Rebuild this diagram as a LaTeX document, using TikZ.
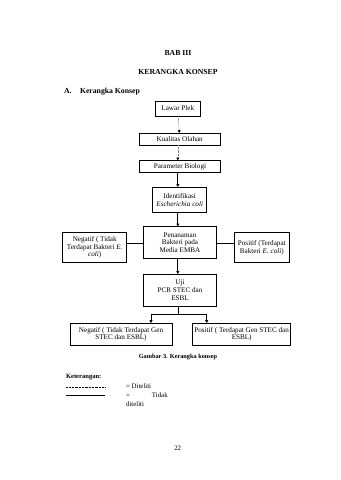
\documentclass[tikz,border=0pt]{standalone}
\usepackage{fontspec}
\setmainfont{Liberation Serif}
\usetikzlibrary{positioning, arrows.meta, calc}

\begin{document}
\begin{tikzpicture}[
  x=1.75pt, y=-1.75pt,
  box/.style={rectangle, draw, line width=1pt, align=center,
              inner sep=1pt, font=\fontsize{12.5}{13.5}\selectfont},
  title/.style={font=\fontsize{13.5}{15}\selectfont\bfseries},
  plain/.style={font=\fontsize{12}{14}\selectfont},
  arrow/.style={-{Triangle[length=5pt, width=5pt]}, line width=1.4pt},
  notdone/.style={-{Triangle[length=5pt, width=5pt, color=black]},
                  gray, dash pattern=on 1.5pt off 1pt, line width=1pt},
  link/.style={line width=1pt},
]
\useasboundingbox (0,0) rectangle (340,480);

% Headings
\node[title] at (178, 52.7)  (bab)   {BAB III};
\node[title] at (178, 72.3)  (judul) {KERANGKA KONSEP};
\node[title, anchor=west] at (62, 91.7) (sub) {A.\hspace{1.1em}Kerangka Konsep};

% Main column
\node[box, minimum width=44.3*1.75pt, minimum height=15*1.75pt, line width=1.4pt]
  at (177.8, 108.5) (lawar) {Lawar Plek};
\node[box, minimum width=80.7*1.75pt, minimum height=11.7*1.75pt]
  at (179.7, 139.2) (kualitas) {Kualitas Olahan};
\node[box, minimum width=81.4*1.75pt, minimum height=11.6*1.75pt]
  at (180, 166.5) (parameter) {Parameter Biologi};
\node[box, minimum width=54*1.75pt, minimum height=25*1.75pt]
  at (179.7, 199.8) (identifikasi) {Identifikasi\\\textit{Escherichia coli}};
\node[box, minimum width=73.4*1.75pt, minimum height=31.6*1.75pt]
  at (180, 242.5) (penanaman) {Penanaman\\Bakteri pada\\Media EMBA};
\node[box, minimum width=73.4*1.75pt, minimum height=31.7*1.75pt]
  at (180, 290.2) (uji) {Uji\\PCR STEC dan\\ESBL};

% Side results of the culture
\node[box, minimum width=64*1.75pt, minimum height=29.6*1.75pt]
  at (94.7, 247.5) (negkultur) {Negatif ( Tidak\\Terdapat Bakteri \textit{E.}\\\textit{coli})};
\node[box, minimum width=55*1.75pt, minimum height=29.6*1.75pt]
  at (261.8, 247.5) (poskultur) {Positif (Terdapat\\Bakteri \textit{E. coli})};

% PCR results
\node[box, minimum width=102*1.75pt, minimum height=21.7*1.75pt]
  at (121, 334.2) (negpcr) {Negatif ( Tidak Terdapat Gen\\STEC dan ESBL)};
\node[box, minimum width=98*1.75pt, minimum height=21.7*1.75pt]
  at (241.7, 334.2) (pospcr) {Positif ( Terdapat Gen STEC dan\\ESBL)};

% Caption
\node[font=\fontsize{11}{13}\selectfont\bfseries] at (178, 356.7) (caption) {Gambar 3. Kerangka konsep};

% Arrows: main column
\draw[notdone] (lawar) -- (kualitas);
\draw[notdone] (kualitas.south -| lawar) -- (parameter.north -| lawar);
\draw[arrow] (parameter.south -| lawar) -- (identifikasi.north -| lawar);
\draw[arrow] (identifikasi.south -| lawar) -- (penanaman.north -| lawar);
\draw[arrow] (penanaman.south -| lawar) -- (uji.north -| lawar);

% Side links
\coordinate (midlink) at (0, 243.3);
\draw[link] (penanaman.west |- midlink) -- (negkultur.east |- midlink);
\draw[link] (penanaman.east |- midlink) -- (poskultur.west |- midlink);

% Branch to PCR results
\coordinate (split) at ($(uji.south -| lawar) + (0, 8)$);
\coordinate (leftdrop) at (151, 0);
\coordinate (rightdrop) at (206.7, 0);
\draw[link] (uji.south -| lawar) -- (split);
\draw[link] (split -| leftdrop) -- (split -| rightdrop);
\draw[arrow] (split -| leftdrop) -- (negpcr.north -| leftdrop);
\draw[arrow] (split -| rightdrop) -- (pospcr.north -| rightdrop);

% Legend
\node[font=\fontsize{11.5}{13}\selectfont\bfseries, anchor=west] at (64, 376.7) (keterangan) {Keterangan:};
\coordinate (dashA) at (66, 387);
\coordinate (dashB) at (105, 387);
\coordinate (lineA) at (66, 395);
\coordinate (lineB) at (105, 395);
\draw[line width=0.9pt, dash pattern=on 1.6pt off 0.9pt] (dashA) -- (dashB);
\draw[line width=0.9pt] (lineA) -- (lineB);
\node[plain, anchor=west, inner sep=0pt] at (126, 386) (diteliti) {= Diteliti};
\node[plain, font=\fontsize{12}{15.5}\selectfont, anchor=north west, align=left, inner sep=0pt]
  at (126, 393) (tidak) {=\hspace{3.2em}Tidak\\diteliti};

% Page number
\node[plain] at (177.7, 448) (hal) {22};
\end{tikzpicture}
\end{document}
